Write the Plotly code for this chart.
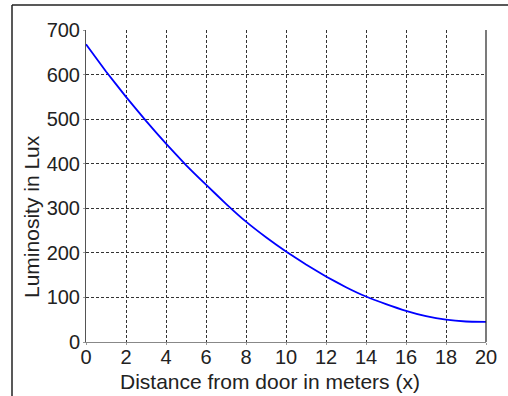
import plotly.graph_objects as go

# Data
distance_m = [0, 1, 2, 3, 4, 5, 6, 7, 8, 9, 10, 11, 12, 13, 14, 15, 16, 17, 18, 19, 20]
luminosity_lux = [668, 607, 550, 496, 445, 397, 353, 310, 270, 235, 203, 174, 147, 123, 102, 85, 70, 58, 50, 46, 45]

x_ticks = [0, 2, 4, 6, 8, 10, 12, 14, 16, 18, 20]
y_ticks = [0, 100, 200, 300, 400, 500, 600, 700]

x_title = "Distance from door in meters (x)"
y_title = "Luminosity in Lux"

FONT = "Liberation Sans, Arial, sans-serif"

fig = go.Figure()
fig.add_trace(go.Scatter(
    x=distance_m, y=luminosity_lux, mode="lines",
    line=dict(color="#0000ff", width=1.8, shape="spline", smoothing=0.3),
    showlegend=False, hoverinfo="skip"))

L, R, T, B = 86, 22, 30, 54
W, H = 508, 396
pw, ph = W - L - R, H - T - B

axis_common = dict(
    showgrid=True, gridcolor="#333333", gridwidth=1, griddash="3px,2px",
    zeroline=False, ticks="outside", ticklen=2, tickcolor="#999999",
    tickfont=dict(family=FONT, size=20, color="#222222"),
    showline=True, linewidth=1,
)

fig.update_layout(
    width=W, height=H,
    margin=dict(l=L, r=R, t=T, b=B, pad=0),
    paper_bgcolor="white", plot_bgcolor="white",
    xaxis=dict(axis_common, range=[0, 20], tickvals=x_ticks, linecolor="#888888",
               ticklabelstandoff=-5),
    yaxis=dict(axis_common, range=[0, 700], tickvals=y_ticks, linecolor="#555555",
               ticklabelstandoff=-1),
)

# axis titles placed where the reference has them
fig.add_annotation(text=x_title, xref="paper", yref="paper",
                   x=(270 - L) / pw, y=-(381 - (H - B)) / ph,
                   xanchor="center", yanchor="middle", showarrow=False,
                   font=dict(family=FONT, size=21, color="#222222"))
fig.add_annotation(text=y_title, xref="paper", yref="paper", textangle=-90,
                   x=(31 - L) / pw, y=((H - B) - 216) / ph,
                   xanchor="center", yanchor="middle", showarrow=False,
                   font=dict(family=FONT, size=21, color="#222222"))

# right box edge of the axes
fig.add_shape(type="line", xref="paper", yref="paper", x0=1, x1=1, y0=0, y1=1,
              line=dict(color="#222222", width=1.2))

# outer figure frame (top and left edges)
fx0 = (12 - L) / pw
fx1 = (W - L) / pw + 0.01
fy_top = (H - B - 5) / ph
fy_bot = -(B + 2) / ph
fig.add_shape(type="line", xref="paper", yref="paper", x0=fx0, x1=fx1, y0=fy_top, y1=fy_top,
              line=dict(color="#222222", width=1.5))
fig.add_shape(type="line", xref="paper", yref="paper", x0=fx0, x1=fx0, y0=fy_top, y1=fy_bot,
              line=dict(color="#222222", width=1.5))

fig.write_html("out.html")
